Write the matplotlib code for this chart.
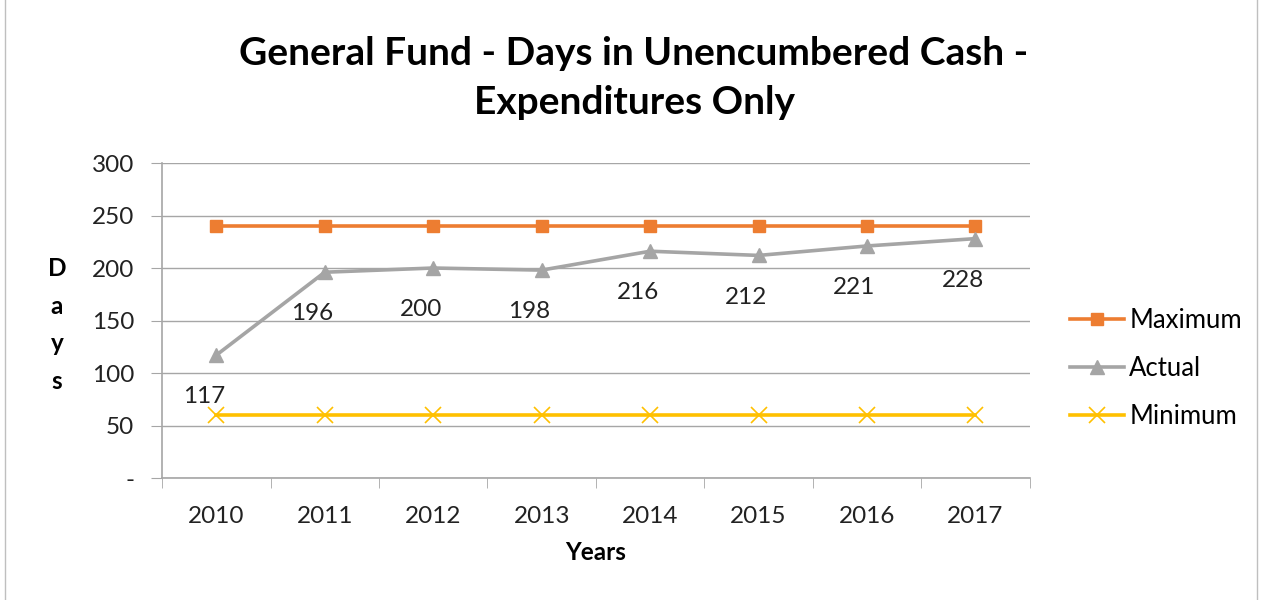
"""
General Fund - days in unencumbered cash, expenditures only.
"""

import numpy as np
import matplotlib.pyplot as plt
from matplotlib.patches import Rectangle

plt.rcParams["font.family"] = ["Lato", "DejaVu Sans"]

years = ["2010", "2011", "2012", "2013", "2014", "2015", "2016", "2017"]
maximum = [240, 240, 240, 240, 240, 240, 240, 240]
actual = [117, 196, 200, 198, 216, 212, 221, 228]
minimum = [60, 60, 60, 60, 60, 60, 60, 60]

fig = plt.figure(figsize=(12.63, 6), dpi=100)
ax = fig.add_axes([0.1283, 0.2033, 0.687, 0.525])

x = np.arange(len(years))
grid_color = "#a6a6a6"
text_color = "#222222"
fs = 17.5

ax.plot(x, maximum, color="#ED7D31", lw=2.6, marker="s", ms=9, label="Maximum", zorder=3)
ax.plot(x, actual, color="#A5A5A5", lw=2.6, marker="^", ms=10, label="Actual", zorder=3)
ax.plot(x, minimum, color="#FFC000", lw=2.6, marker="x", ms=11, mew=1.2,
        label="Minimum", zorder=3)

for xi, v in zip(x, actual):
    ax.annotate(str(v), (xi, v), xytext=(-9, -30), textcoords="offset points",
                ha="center", va="center", fontsize=fs, color=text_color)

ax.set_xlim(-0.5, 7.5)
ax.set_ylim(0, 300)
ax.set_yticks(range(0, 301, 50))
ax.set_yticklabels(["-"] + [str(v) for v in range(50, 301, 50)])
ax.yaxis.grid(True, color=grid_color, lw=1)
ax.set_axisbelow(True)

ax.set_xticks(x)
ax.set_xticklabels(years)
ax.set_xticks(np.arange(-0.5, 8, 1), minor=True)
ax.tick_params(axis="x", which="major", length=0, pad=20, labelsize=fs, labelcolor=text_color)
ax.tick_params(axis="x", which="minor", length=7, color=grid_color, direction="out")
ax.tick_params(axis="y", length=8, color=grid_color, pad=12, labelsize=fs,
               labelcolor=text_color)

for side in ["top", "right"]:
    ax.spines[side].set_visible(False)
for side in ["left", "bottom"]:
    ax.spines[side].set_color(grid_color)
    ax.spines[side].set_linewidth(1.2)

ax.set_xlabel("Years", fontsize=fs, fontweight="bold", labelpad=10)
ax.text(-0.121, 0.486, "D\na\ny\ns", transform=ax.transAxes, ha="center", va="center",
        fontsize=fs, fontweight="bold", linespacing=1.78)

fig.suptitle("General Fund - Days in Unencumbered Cash -\nExpenditures Only",
             x=0.502, y=0.94, fontsize=28, fontweight="bold", linespacing=1.5)

ax.legend(loc="center left", bbox_to_anchor=(1.02, 0.348), frameon=False,
          fontsize=18.5, handlelength=2.1, handletextpad=0.2, labelspacing=0.9)

fig.add_artist(Rectangle((0.004, -0.01), 0.991, 1.02, transform=fig.transFigure,
                         fill=False, edgecolor="#bfbfbf", lw=1))

plt.savefig("out.png")
